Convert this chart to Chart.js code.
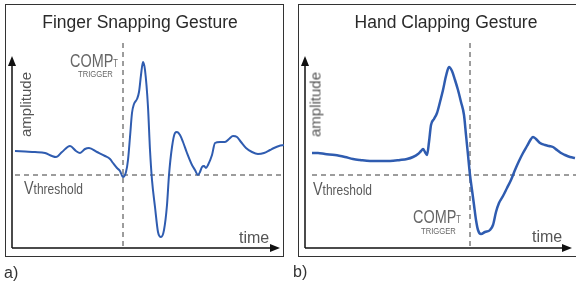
<!DOCTYPE html>
<html>
<head>
<meta charset="utf-8">
<script src="https://cdn.jsdelivr.net/npm/chart.js@4/dist/chart.umd.min.js"></script>
<style>
    body { margin: 0; background: #fff; font-family: 'Liberation Sans', Arial, sans-serif; }
    #page { position: relative; width: 576px; height: 284px; overflow: hidden; }
    .box { position: absolute; top: 4px; height: 253px; border: 1px solid #333; box-sizing: border-box; }
    canvas { position: absolute; top: 0; }
    .txt { position: absolute; white-space: nowrap; }
    .title { font-size: 17.5px; line-height: 17.5px; color: #2a2a2a; text-align: center; width: 240px; }
    .comp { font-size: 19px; line-height: 19px; color: #666; transform: scaleX(0.76); transform-origin: left; }
    .comp span { font-size: 10px; }
    .trig { font-size: 8.5px; line-height: 8.5px; color: #666; transform: scaleX(0.9); transform-origin: left; }
    .vth { font-size: 18px; line-height: 18px; color: #5a5a5a; transform: scaleX(0.8); transform-origin: left; }
    .vth span { font-size: 15px; }
    .amp { font-size: 15px; line-height: 15px; color: #555; width: 70px; text-align: center; transform: rotate(-90deg); }
    .time { font-size: 16px; line-height: 16px; color: #555; }
    .tag { font-size: 16px; line-height: 16px; color: #333; }
</style>
</head>
<body>
<div id="page">
    <div class="box" style="left:5px; width:279px;"></div>
    <div class="box" style="left:298px; width:290px;"></div>

    <canvas id="chart1" width="290" height="284" style="left:0px;"></canvas>
    <canvas id="chart2" width="286" height="284" style="left:290px;"></canvas>

    <div class="txt title" style="left:20px; top:14px;">Finger Snapping Gesture</div>
    <div class="txt title" style="left:326px; top:14px;">Hand Clapping Gesture</div>

    <div class="txt comp" style="left:70px; top:51px;">COMP<span>T</span></div>
    <div class="txt trig" style="left:78px; top:70px;">TRIGGER</div>
    <div class="txt comp" style="left:413px; top:207px;">COMP<span>T</span></div>
    <div class="txt trig" style="left:421px; top:227px;">TRIGGER</div>

    <div class="txt vth" style="left:24px; top:179px;">V<span>threshold</span></div>
    <div class="txt vth" style="left:313px; top:180px;">V<span>threshold</span></div>

    <div class="txt amp" style="left:-10px; top:97px;">amplitude</div>
    <div class="txt amp" style="left:280px; top:97px;">amplitude</div>

    <div class="txt time" style="left:239px; top:230px;">time</div>
    <div class="txt time" style="left:532px; top:229px;">time</div>

    <div class="txt tag" style="left:4px; top:265px;">a)</div>
    <div class="txt tag" style="left:293px; top:264px;">b)</div>
</div>

<script>
// finger snapping signal (time, amplitude relative to threshold)
snapTime = [3, 13, 23, 33, 40, 44, 50, 58, 64, 68, 73, 77, 85, 93, 98, 101, 105, 108, 111, 114,
    116, 118, 120, 122, 125, 127, 129, 131, 133, 136, 138, 140, 143, 146, 149, 152, 155, 157, 160, 163,
    165, 168, 171, 175, 180, 183, 186, 188, 190, 192, 194, 196, 200, 203, 208, 213, 217, 221, 225, 229,
    234, 240, 246, 252, 258, 262, 267, 272];
snapAmp = [24, 23.5, 23, 22, 19, 18, 23, 29, 24, 22, 26, 27, 23, 19, 16, 12, 7, 4, -2, 3,
    15, 38, 62, 71, 76, 83, 100, 113, 105, 68, 25, -5, -32, -57, -62, -55, -30, 0, 28, 42,
    43, 40, 33, 22, 10, 5, 0, 3, 8, 9, 7, 10, 20, 32, 33, 33, 36, 39, 38, 33,
    27, 23, 21, 22, 25, 27, 29, 30];

// hand clapping signal
clapTime = [7, 13, 20, 30, 40, 48, 55, 65, 75, 85, 95, 102, 108, 113, 116, 118, 120, 122, 124, 126,
    129, 132, 135, 138, 141, 144, 147, 150, 153, 156, 159, 161, 163, 165, 167, 169, 171, 173, 176, 180,
    185, 188, 191, 194, 198, 202, 206, 210, 214, 218, 222, 226, 228, 231, 235, 240, 244, 248, 252, 256,
    260, 265, 270];
clapAmp = [22, 22, 21, 20, 18, 16, 15, 14, 14, 14, 15, 16, 18, 21, 24, 26, 23, 20, 33, 50,
    56, 62, 73, 85, 99, 108, 104, 95, 85, 73, 60, 40, 20, 0, -15, -30, -45, -55, -59, -57,
    -55, -50, -37, -28, -21, -13, -5, 5, 14, 22, 29, 36, 38, 36, 32, 30, 29, 28, 25, 22,
    20, 18, 17];

// comparator trigger instants and threshold level
snapTrigger = 111;
clapTrigger = 165;
threshold = 0;

// draws the arrows, the threshold line and the trigger line
const guides = {
    id: 'guides',
    beforeDatasetsDraw: function (chart, args, opts) {
        const ctx = chart.ctx;
        const area = chart.chartArea;
        const yTh = chart.scales.y.getPixelForValue(opts.threshold);
        const xTr = chart.scales.x.getPixelForValue(opts.trigger);

        ctx.save();
        ctx.strokeStyle = '#3a3a3a';
        ctx.lineWidth = 1;
        ctx.setLineDash([5, 4]);
        ctx.beginPath();
        ctx.moveTo(area.left + opts.dashStart, yTh);
        ctx.lineTo(area.right, yTh);
        ctx.moveTo(xTr, 43);
        ctx.lineTo(xTr, area.bottom + 2);
        ctx.stroke();

        ctx.setLineDash([]);
        ctx.strokeStyle = '#111';
        ctx.fillStyle = '#111';
        ctx.lineWidth = 1.5;
        const tip = area.right - 4;
        ctx.beginPath();
        ctx.moveTo(area.left, area.bottom);
        ctx.lineTo(area.left, area.top + 8);
        ctx.moveTo(area.left, area.bottom);
        ctx.lineTo(tip - 8, area.bottom);
        ctx.stroke();

        ctx.beginPath();
        ctx.moveTo(area.left, area.top);
        ctx.lineTo(area.left - 4, area.top + 10);
        ctx.lineTo(area.left + 4, area.top + 10);
        ctx.closePath();
        ctx.fill();

        ctx.beginPath();
        ctx.moveTo(tip, area.bottom);
        ctx.lineTo(tip - 10, area.bottom - 4);
        ctx.lineTo(tip - 10, area.bottom + 4);
        ctx.closePath();
        ctx.fill();
        ctx.restore();
    }
};

function signalChart(canvas, times, amps, trigger, padding, xMax, dashStart, width) {
    const points = times.map(function (t, i) {
        return { x: t, y: amps[i] };
    });
    const ctx = document.getElementById(canvas);
    const myChart = new Chart(ctx, {
        type: 'line',
        data: {
            datasets: [{
                data: points,
                borderColor: '#2f5cb0',
                borderWidth: width,
                pointRadius: 0,
                cubicInterpolationMode: 'monotone',
                fill: false
            }]
        },
        options: {
            responsive: false,
            animation: false,
            layout: { padding: padding },
            scales: {
                x: { type: 'linear', min: 0, max: xMax, display: false },
                y: { min: -73, max: 119, display: false }
            },
            plugins: {
                legend: { display: false },
                tooltip: { enabled: false },
                guides: { threshold: threshold, trigger: trigger, dashStart: dashStart }
            }
        },
        plugins: [guides]
    });
}

signalChart('chart1', snapTime, snapAmp, snapTrigger, { left: 12, right: 6, top: 56, bottom: 36 }, 272, 3, 2);
signalChart('chart2', clapTime, clapAmp, clapTrigger, { left: 15, right: 0, top: 56, bottom: 36 }, 271, 7, 2.5);
</script>
</body>
</html>
